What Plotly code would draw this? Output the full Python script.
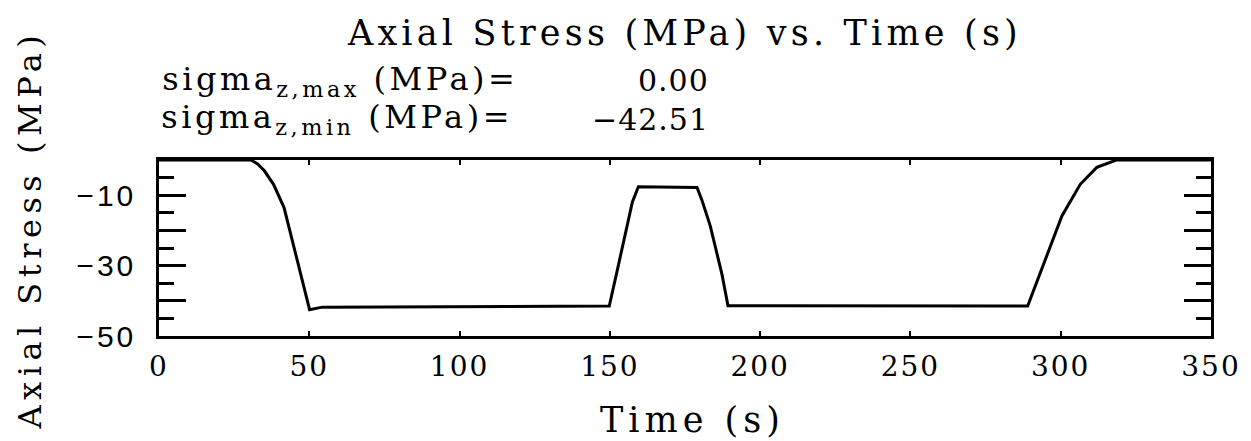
import plotly.graph_objects as go

# ---- data ----
time_s = [0, 30.6, 32.8, 35.0, 38.1, 41.6, 45.5, 50.1, 54.3, 149.8, 152.5, 155.3,
          157.5, 159.5, 179.0, 180.7, 183.4, 187.3, 189.3, 289.0, 292.2, 295.5,
          300.4, 306.5, 312.0, 318.5, 350]
stress_mpa = [0, 0, -1.1, -3.0, -6.9, -13.5, -26.8, -42.51, -41.8, -41.5, -31.2, -19.9,
              -11.9, -7.6, -7.8, -11.6, -18.7, -32.5, -41.4, -41.5, -34.3, -26.8,
              -15.9, -6.9, -2.1, 0, 0]

x_ticks = [0, 50, 100, 150, 200, 250, 300, 350]
y_label_ticks = [-50, -30, -10]
y_label_text = ["\u221250", "\u221230", "\u221210"]
y_unlabeled_major = [-40, -20]

sigma_max = 0.00
sigma_min = -42.51

# ---- layout geometry (pixels) ----
W, H = 1251, 441
L, R, T, B = 151, 1203, 152, 328
PW, PH = R - L, B - T


def px(xp):
    return (xp - L) / PW


def py(yp):
    return (B - yp) / PH


SERIF = "DejaVu Serif"
SANS = "Liberation Sans"

fig = go.Figure()
fig.add_trace(go.Scatter(x=time_s, y=stress_mpa, mode="lines",
                         line=dict(color="black", width=3), showlegend=False,
                         hoverinfo="skip"))
# carriers for the extra tick-only axes (long unlabeled major ticks)
for ax in ("y2", "y3"):
    fig.add_trace(go.Scatter(x=time_s[:1], y=stress_mpa[:1], yaxis=ax, mode="lines",
                             opacity=0, showlegend=False, hoverinfo="skip"))

fig.update_layout(
    width=W, height=H,
    margin=dict(l=L, r=W - R, t=T, b=H - B, pad=0),
    paper_bgcolor="white", plot_bgcolor="white",
    font=dict(family=SERIF, color="black"),
    showlegend=False,
)

fig.update_xaxes(range=[0, 350], tickvals=x_ticks, ticks="inside", ticklen=5,
                 tickwidth=1.5, tickcolor="black", showgrid=False, zeroline=False,
                 showline=True, linecolor="black", linewidth=2.5, mirror="ticks",
                 ticklabelstandoff=4,
                 tickfont=dict(family=SERIF, size=28, color="black"))
fig.update_layout(
    yaxis=dict(range=[-50, 0], tickvals=y_label_ticks, ticktext=y_label_text,
               ticks="inside", ticklen=27, tickwidth=2.5, tickcolor="black",
               minor=dict(dtick=5, tick0=0, ticks="inside", ticklen=15,
                          tickwidth=2.5, tickcolor="black", showgrid=False),
               showgrid=False, zeroline=False, showline=True, linecolor="black",
               linewidth=2.5, mirror="ticks", ticklabelstandoff=14,
               tickfont=dict(family=SANS, size=30, color="black")),
    yaxis2=dict(range=[-50, 0], overlaying="y", side="left", anchor="x",
                tickvals=y_unlabeled_major, ticks="inside", ticklen=27, tickwidth=2.5,
                tickcolor="black", showticklabels=False, showgrid=False,
                zeroline=False, showline=False),
    yaxis3=dict(range=[-50, 0], overlaying="y", side="right", anchor="x",
                tickvals=y_unlabeled_major, ticks="inside", ticklen=27, tickwidth=2.5,
                tickcolor="black", showticklabels=False, showgrid=False,
                zeroline=False, showline=False),
)

ann = []
spacing = []


def add(text, xc, yc, size, sp, angle=0):
    ann.append(dict(text=text, x=px(xc), y=py(yc), xref="paper", yref="paper",
                    xanchor="center", yanchor="middle", showarrow=False,
                    textangle=angle, font=dict(family=SERIF, size=size)))
    spacing.append(sp)


def fmt(v):
    return f"{v:.2f}".replace("-", "\u2212")


add("Axial Stress (MPa) vs. Time (s)", 676, 25, 35, 4.2)
add("sigma<sub>z,max</sub> (MPa)=", 332, 73, 32, 3.5)
add(fmt(sigma_max), 665, 73, 30, 1)
add("sigma<sub>z,min</sub> (MPa)=", 329, 111, 32, 3.5)
add(fmt(sigma_min), 642, 111, 30, 1)
add("Time (s)", 684, 412, 35, 5)
add("Axial Stress (MPa)", 22, 222, 32, 5.5, -90)
fig.update_layout(annotations=ann)

sp_js = "[" + ",".join(str(s) for s in spacing) + "]"
post = """
(function(){
  var gd = document.getElementById('{plot_id}');
  var sp = %s;
  function setSp(sel, v){
    var els = gd.querySelectorAll(sel);
    for (var i = 0; i < els.length; i++) { els[i].style.letterSpacing = v; }
  }
  setSp('.xtick text', '2px');
  setSp('.ytick text', '3px');
  var groups = gd.querySelectorAll('g.annotation');
  for (var i = 0; i < groups.length; i++) {
    var idx = groups[i].getAttribute('data-index');
    idx = (idx === null) ? i : parseInt(idx, 10);
    var t = groups[i].querySelector('.annotation-text');
    if (t && sp[idx] !== undefined) { t.style.letterSpacing = sp[idx] + 'px'; }
  }
})();
""" % sp_js

fig.write_html("out.html", post_script=post)
